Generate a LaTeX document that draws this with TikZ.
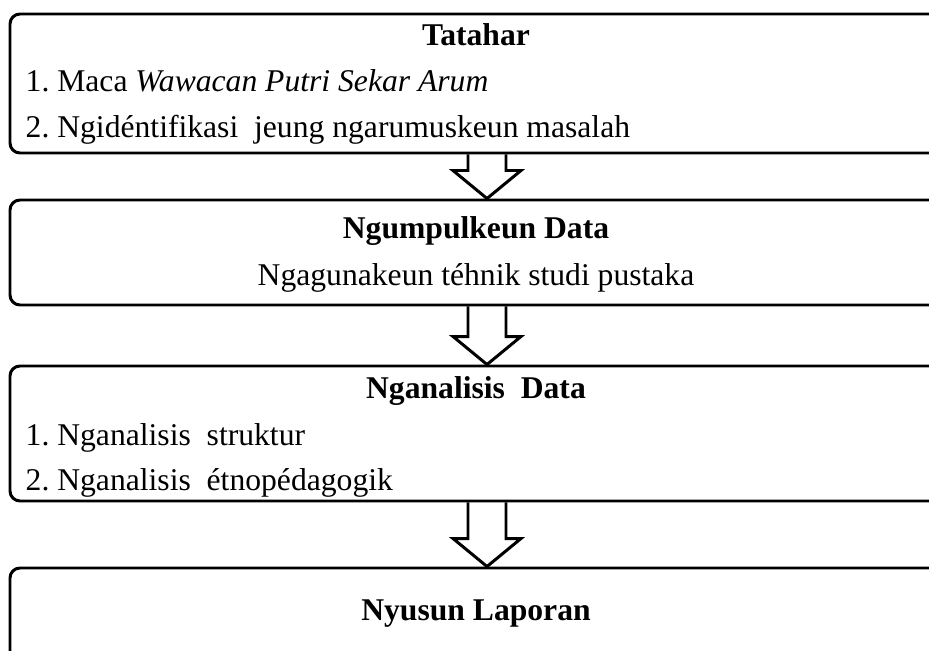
\documentclass[tikz,border=0pt]{standalone}
\usepackage{fontspec}
\setmainfont{Liberation Serif}
\usetikzlibrary{calc}
\frenchspacing

\begin{document}
\begin{tikzpicture}[thick]
\tikzstyle{box}=[draw, line width=1.7pt, rounded corners=0.2cm, minimum width=18.64cm, inner sep=0pt]
\tikzstyle{txt}=[inner sep=0pt, font=\fontsize{18}{21}\selectfont]
\tikzstyle{blockarrow}=[draw, line width=1.7pt, line join=miter]
\useasboundingbox (0,0) rectangle (18.58,-13.02);
\clip (0,0) rectangle (18.58,-13.02);

\node[box, minimum height=2.78cm] (Box-1) at (9.52,-1.67) {};
\node[box, minimum height=2.10cm] (Box-2) at (9.52,-5.05) {};
\node[box, minimum height=2.70cm] (Box-3) at (9.52,-8.67) {};
\node[box, minimum height=2.24cm] (Box-4) at (9.52,-12.48) {};

\node[txt, anchor=base] (Head-1) at (9.52,-0.92) {\textbf{Tatahar}};
\node[txt, anchor=base west] (Item-1a) at (0.5,-1.84) {1. Maca \textit{Wawacan Putri Sekar Arum}};
\node[txt, anchor=base west] (Item-1b) at (0.5,-2.76) {2. Ngidéntifikasi\ \ jeung ngarumuskeun masalah};

\node[txt, anchor=base] (Head-2) at (9.52,-4.76) {\textbf{Ngumpulkeun Data}};
\node[txt, anchor=base] (Item-2a) at (9.52,-5.70) {Ngagunakeun téhnik studi pustaka};

\node[txt, anchor=base] (Head-3) at (9.52,-7.96) {\textbf{Nganalisis\ \ Data}};
\node[txt, anchor=base west] (Item-3a) at (0.5,-8.90) {1. Nganalisis\ \ struktur};
\node[txt, anchor=base west] (Item-3b) at (0.5,-9.80) {2. Nganalisis\ \ étnopédagogik};

\node[txt, anchor=base] (Head-4) at (9.52,-12.40) {\textbf{Nyusun Laporan}};

% block arrows between the steps
\foreach \a/\b in {1/2, 2/3, 3/4}{
  \draw[blockarrow] let \p1=(Box-\a.south), \p2=(Box-\b.north) in
    (\x1-0.16cm,\y1) -- (\x1-0.16cm,\y2+0.56cm) -- (\x1-0.46cm,\y2+0.56cm)
    -- (\x1+0.22cm,\y2) -- (\x1+0.90cm,\y2+0.56cm) -- (\x1+0.60cm,\y2+0.56cm)
    -- (\x1+0.60cm,\y1);
}
\end{tikzpicture}
\end{document}
